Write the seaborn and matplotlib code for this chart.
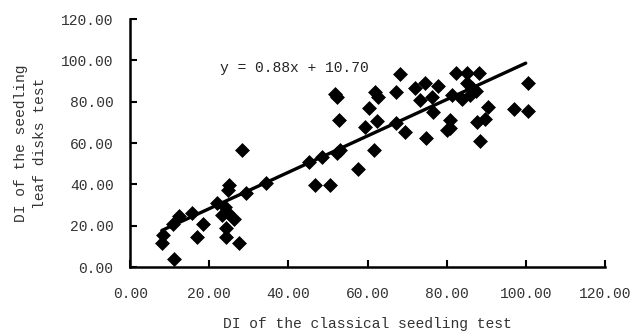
import matplotlib
matplotlib.use("Agg")
import matplotlib.pyplot as plt
import seaborn as sns
import numpy as np
import pandas as pd

# Data
classical_di = [8.2, 8.0, 11.1, 10.9, 12.3, 15.6, 16.8, 18.4, 22.0, 23.2,
                24.0, 24.4, 26.2, 24.3, 24.3, 27.4, 25.1, 24.7, 29.4, 28.2,
                34.4, 45.3, 48.4, 46.6, 50.6, 52.2, 53.0, 51.8, 52.3, 52.9,
                57.5, 59.4, 60.5, 61.6, 61.9, 62.7, 62.3, 67.2, 67.2, 68.2,
                69.5, 72.1, 73.3, 74.5, 74.8, 76.2, 76.6, 77.9, 80.0, 80.8,
                80.8, 81.3, 82.4, 83.8, 85.1, 85.1, 86.3, 85.9, 88.3, 87.6,
                89.7, 88.4, 90.5, 97.1, 100.5, 100.5, 87.4]
leafdisk_di = [15.5, 11.5, 3.9, 21.0, 24.5, 26.3, 14.4, 21.0, 30.8, 25.2,
               29.0, 26.8, 23.1, 18.8, 14.8, 11.5, 39.8, 37.5, 36.0, 56.9,
               40.6, 50.8, 53.1, 39.7, 39.7, 55.0, 56.6, 83.8, 82.5, 71.4,
               47.3, 67.9, 77.1, 56.6, 84.8, 82.4, 70.8, 84.8, 69.8, 93.4,
               65.5, 86.9, 81.1, 88.9, 62.3, 82.4, 75.1, 87.6, 66.3, 67.3,
               71.1, 83.2, 93.7, 81.6, 93.7, 88.9, 86.5, 83.2, 93.7, 70.3,
               71.5, 61.0, 77.4, 76.3, 88.9, 75.6, 85.0]
fit_slope = [0.88]
fit_intercept = [10.70]
tick_values = [0, 20, 40, 60, 80, 100, 120]
tick_labels = ["0.00", "20.00", "40.00", "60.00", "80.00", "100.00", "120.00"]
equation_text = "y = 0.88x + 10.70"
x_label = "DI of the classical seedling test"
y_label = "DI of the seedling\nleaf disks test"

df = pd.DataFrame({"classical": classical_di, "leafdisk": leafdisk_di})

sns.set_theme(style="ticks")
plt.rcParams["font.family"] = ["Liberation Mono", "DejaVu Sans Mono"]

fig = plt.figure(figsize=(6.32, 3.36), dpi=100)
ax = fig.add_axes([0.206, 0.205, 0.751, 0.738])

sns.scatterplot(data=df, x="classical", y="leafdisk", marker="D", s=50,
                color="black", edgecolor="black", linewidth=0.5, ax=ax, zorder=3)

xl = np.array([min(classical_di), 100.0])
sns.lineplot(x=xl, y=fit_slope[0] * xl + fit_intercept[0], color="black",
             linewidth=2.4, ax=ax, zorder=2)

ax.set_xlim(0, 120)
ax.set_ylim(0, 120)
ax.set_xticks(tick_values)
ax.set_xticklabels(tick_labels)
ax.set_yticks(tick_values)
ax.set_yticklabels(tick_labels)
ax.tick_params(direction="in", length=5, width=1.5, colors="black",
               labelsize=10.5, pad=14)
ax.tick_params(axis="y", pad=12)
for lab in ax.get_xticklabels() + ax.get_yticklabels():
    lab.set_color("#333333")

for side in ["top", "right"]:
    ax.spines[side].set_visible(False)
for side in ["left", "bottom"]:
    ax.spines[side].set_color("black")
    ax.spines[side].set_linewidth(1.8)

ax.set_xlabel(x_label, fontsize=10.5, color="#333333", labelpad=12)
ax.set_ylabel(y_label, fontsize=10.5, color="#333333", labelpad=10,
              linespacing=1.5)

ax.text(22.7, 96.3, equation_text, fontsize=10.5, color="#222222",
        va="center", ha="left")

fig.savefig("out.png", dpi=100)
